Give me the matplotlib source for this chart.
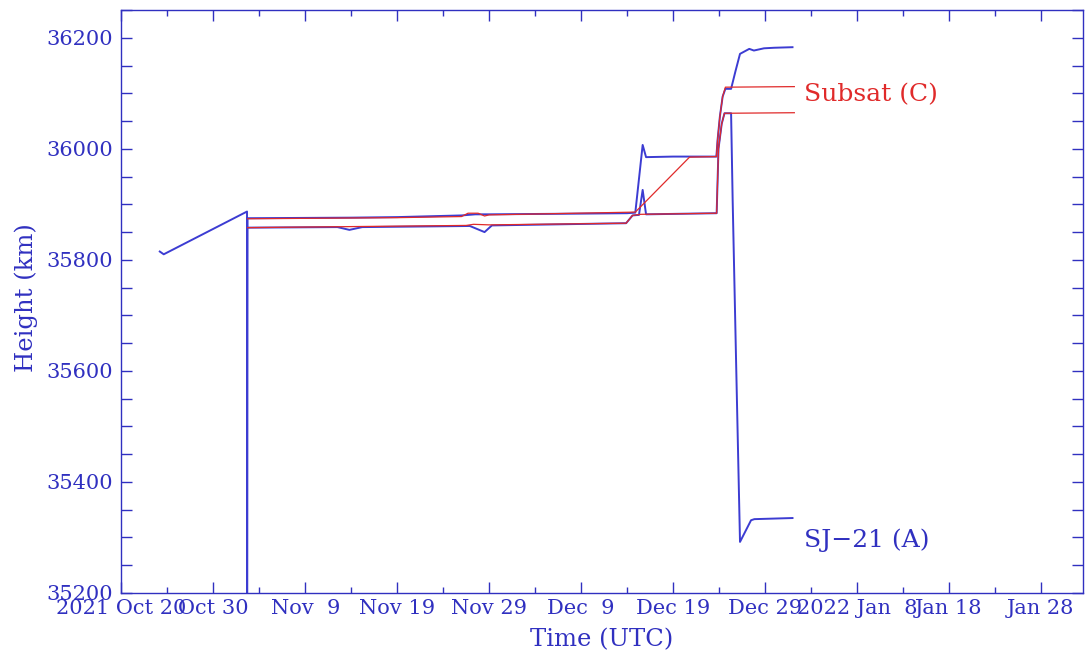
import numpy as np
import pandas as pd
import matplotlib
matplotlib.use("Agg")
import matplotlib.pyplot as plt
import matplotlib.dates as mdates

# ---------------- data (days since 2021-10-20 00:00 UTC, height in km) -------------
epoch = pd.Timestamp("2021-10-20")

sj21_apo_days = [4.17, 4.6, 13.66, 13.67, 13.72, 25.0, 30.0, 37.0, 38.5, 40.0, 48.0,
                 55.0, 55.9, 56.7, 57.07, 60.0, 64.72, 64.85, 65.1, 65.4, 65.7,
                 66.32, 66.8, 67.29, 68.3, 68.8, 69.9, 71.0, 73.0]
sj21_apo_km = [35815, 35810, 35887, 35000, 35875, 35876, 35877, 35880, 35882, 35882, 35883,
               35884, 35885, 36007, 35985, 35986, 35986, 36016, 36058, 36094, 36108,
               36108, 36140, 36171, 36180, 36177, 36181, 36182, 36183]

sj21_peri_days = [13.72, 23.5, 24.8, 26.2, 37.9, 39.5, 40.3, 54.9, 55.6, 56.3, 56.7,
                  57.07, 64.75, 64.95, 65.3, 65.6, 66.32, 66.49, 66.86, 67.29, 68.49,
                  68.85, 73.0]
sj21_peri_km = [35858, 35859, 35854, 35859, 35861, 35850, 35862, 35866, 35880, 35881, 35926,
                35882, 35884, 36000, 36045, 36064, 36064, 35908, 35620, 35292, 35331,
                35333, 35335]

subsat_apo_days = [13.72, 30.0, 37.0, 37.7, 38.8, 39.5, 40.0, 55.9, 61.8, 64.72, 64.85,
                   65.1, 65.4, 65.7, 73.2]
subsat_apo_km = [35874, 35876, 35878, 35884, 35884, 35879, 35881, 35886, 35985, 35986, 36016,
                 36058, 36094, 36111, 36112]

subsat_peri_days = [13.72, 37.5, 38.3, 40.0, 54.9, 55.6, 56.5, 64.75, 64.95, 65.3, 65.6, 73.2]
subsat_peri_km = [35858, 35862, 35864, 35863, 35866, 35880, 35882, 35884, 36000, 36045,
                  36064, 36065]

tick_days = [0, 10, 20, 30, 40, 50, 60, 70, 80, 90, 100]
tick_labels = ["2021 Oct 20", "Oct 30", "Nov  9", "Nov 19", "Nov 29", "Dec  9",
               "Dec 19", "Dec 29", "2022 Jan  8", "Jan 18", "Jan 28"]
y_ticks = [35200, 35400, 35600, 35800, 36000, 36200]

label_texts = ["SJ\u221221 (A)", "Subsat (C)"]
label_days = [74.25, 74.25]
label_km = [35295, 36097]

# ---------------- styling -------------
BLUE = "#3030c0"
LINE_BLUE = "#3c3cd2"
RED = "#e02a2a"
FONT = "DejaVu Serif"


def to_dates(days):
    return [epoch + pd.Timedelta(days=float(d)) for d in days]


fig = plt.figure(figsize=(10.87, 6.58), dpi=100)
ax = fig.add_axes([0.1113, 0.0988, 0.8850, 0.8860])

ax.plot(to_dates(sj21_apo_days), sj21_apo_km, color=LINE_BLUE, lw=1.4, zorder=2)
ax.plot(to_dates(sj21_peri_days), sj21_peri_km, color=LINE_BLUE, lw=1.4, zorder=2)
ax.plot(to_dates(subsat_apo_days), subsat_apo_km, color=RED, lw=0.9, zorder=3)
ax.plot(to_dates(subsat_peri_days), subsat_peri_km, color=RED, lw=0.9, zorder=3)

ax.set_xlim(mdates.date2num(epoch - pd.Timedelta(days=0.05)),
            mdates.date2num(epoch + pd.Timedelta(days=104.6)))
ax.set_ylim(35200, 36250)

major_x = [mdates.date2num(epoch + pd.Timedelta(days=d)) for d in tick_days]
ax.xaxis.set_major_locator(matplotlib.ticker.FixedLocator(major_x))
ax.xaxis.set_major_formatter(matplotlib.ticker.FixedFormatter(tick_labels))
minor_x = [mdates.date2num(epoch + pd.Timedelta(days=d + 5)) for d in tick_days]
ax.xaxis.set_minor_locator(matplotlib.ticker.FixedLocator(minor_x))

ax.set_yticks(y_ticks)
ax.set_yticklabels([str(v) for v in y_ticks])
ax.yaxis.set_minor_locator(matplotlib.ticker.MultipleLocator(50))

for sp in ax.spines.values():
    sp.set_color(BLUE)
    sp.set_linewidth(1.0)

ax.tick_params(axis="both", which="both", direction="in", colors=BLUE,
               top=True, right=True, width=1.0)
ax.tick_params(axis="both", which="major", length=8, labelsize=15, pad=4)
ax.tick_params(axis="x", which="minor", length=4)
ax.tick_params(axis="y", which="minor", length=8)
ax.tick_params(axis="y", which="major", pad=6)
for lab in ax.get_xticklabels() + ax.get_yticklabels():
    lab.set_fontfamily(FONT)
    lab.set_color(BLUE)

ax.set_xlabel("Time (UTC)", fontsize=17.5, color=BLUE, family=FONT)
ax.xaxis.set_label_coords(0.5, -0.06)
ax.set_ylabel("Height (km)", fontsize=17.5, color=BLUE, family=FONT)
ax.yaxis.set_label_coords(-0.086, 0.506)

for text, d, h in zip(label_texts, label_days, label_km):
    col = BLUE if text.startswith("SJ") else RED
    ax.text(mdates.date2num(epoch + pd.Timedelta(days=d)), h, text,
            color=col, fontsize=18, family=FONT, va="center", ha="left")

fig.savefig("out.png", dpi=100)
